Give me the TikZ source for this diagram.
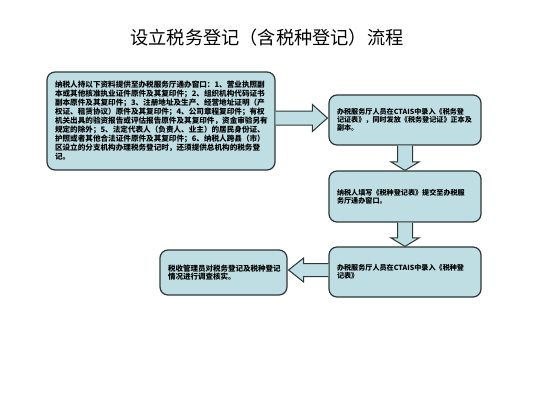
\documentclass[tikz,border=0pt]{standalone}
\usepackage{fontspec}
\usetikzlibrary{calc}
\newfontfamily\cjk{Noto Sans CJK SC}
\definecolor{boxfill}{RGB}{190,222,228}
\definecolor{boxline}{RGB}{45,55,55}

\begin{document}
\begin{tikzpicture}[x=1pt, y=-1pt,
        box/.style={draw=boxline, line width=1.2pt, fill=boxfill, rounded corners=8pt, align=left, inner sep=0pt},
        barrow/.style={draw=boxline, line width=1pt, fill=boxfill, line join=miter}]
        \useasboundingbox[fill=white] (0,0) rectangle (533,400);

        \node[font={\cjk\fontsize{18.2}{22}\selectfont}] (title) at (267,38) {设立税务登记（含税种登记）流程};

        \node[box, minimum width=228pt, minimum height=98pt, text width=212pt, font={\cjk\bfseries\fontsize{7.6}{9}\selectfont}] (b1) at (161,121) {纳税人持以下资料提供至办税服务厅通办窗口：1、营业执照副\\
            本或其他核准执业证件原件及其复印件；2、组织机构代码证书\\
            副本原件及其复印件；3、注册地址及生产、经营地址证明（产\\
            权证、租赁协议）原件及其复印件；4、公司章程复印件；有权\\
            机关出具的验资报告或评估报告原件及其复印件，资金审验另有\\
            规定的除外；5、法定代表人（负责人、业主）的居民身份证、\\
            护照或者其他合法证件原件及其复印件；6、纳税人跨县（市）\\
            区设立的分支机构办理税务登记时，还须提供总机构的税务登\\
            记。};
        \node[box, minimum width=152pt, minimum height=50pt, text width=136pt, font={\cjk\bfseries\fontsize{7.1}{8}\selectfont}] (b2) at (405,120) {办税服务厅人员在CTAIS中录入《税务登\\记证表》，同时发放《税务登记证》正本及\\副本。};
        \node[box, minimum width=152pt, minimum height=51pt, text width=136pt, font={\cjk\bfseries\fontsize{7.1}{8}\selectfont}] (b3) at (405,196.5) {纳税人填写《税种登记表》提交至办税服\\务厅通办窗口。};
        \node[box, minimum width=152pt, minimum height=50pt, text width=136pt, font={\cjk\bfseries\fontsize{7.1}{8}\selectfont}] (b4) at (405,272) {办税服务厅人员在CTAIS中录入《税种登\\记表》};
        \node[box, minimum width=127pt, minimum height=45pt, text width=111pt, font={\cjk\bfseries\fontsize{7.5}{8.2}\selectfont}] (b5) at (223.5,272.5) {税收管理员对税务登记及税种登记\\情况进行调查核实。};

        % block arrows between the boxes
        \coordinate (t1) at ($(b2.west)+(-1,-2)$);
        \draw[barrow] ($(b1.east |- t1)+(0,-7)$) -- ($(t1)+(-15,-7)$) -- ($(t1)+(-15,-13.5)$) -- (t1) -- ($(t1)+(-15,13.5)$) -- ($(t1)+(-15,7)$) -- ($(b1.east |- t1)+(0,7)$);

        \coordinate (t2) at (b3.north);
        \draw[barrow] ($(b2.south)+(-7.5,0)$) -- ($(t2)+(-7.5,-8.5)$) -- ($(t2)+(-14,-8.5)$) -- (t2) -- ($(t2)+(14,-8.5)$) -- ($(t2)+(7.5,-8.5)$) -- ($(b2.south)+(7.5,0)$);

        \coordinate (t3) at (b4.north);
        \draw[barrow] ($(b3.south)+(-7.5,0)$) -- ($(t3)+(-7.5,-8.5)$) -- ($(t3)+(-14,-8.5)$) -- (t3) -- ($(t3)+(14,-8.5)$) -- ($(t3)+(7.5,-8.5)$) -- ($(b3.south)+(7.5,0)$);

        \coordinate (t4) at ($(b5.east)+(1,-2.5)$);
        \draw[barrow] ($(b4.west |- t4)+(0,-6.5)$) -- ($(t4)+(15,-6.5)$) -- ($(t4)+(15,-12)$) -- (t4) -- ($(t4)+(15,12)$) -- ($(t4)+(15,6.5)$) -- ($(b4.west |- t4)+(0,6.5)$);
    \end{tikzpicture}
\end{document}
